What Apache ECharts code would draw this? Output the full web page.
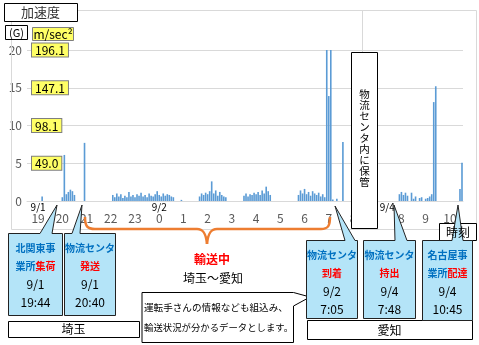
<!DOCTYPE html>
<html>
<head>
<meta charset="utf-8">
<script src="https://cdn.jsdelivr.net/npm/echarts@6/dist/echarts.min.js"></script>
<style>
html,body{margin:0;padding:0;background:#fff;}
#chart{width:479px;height:345px;}
</style>
</head>
<body>
<div id="chart"></div>
<script>
// 加速度(G) 5分ごと  9/1 18:35 〜 9/2 8:55
const accelA = [
  0, 0, 0, 0, 0,
  0, 0, 0.6, 0, 0, 0, 0, 0, 0, 0, 0, 0,                      // 19時
  0.5, 6.1, 0.9, 1.2, 1.5, 1.3, 0.8, 0, 0, 0, 0, 7.7,        // 20時
  0, 0, 0, 0, 0, 0, 0, 0, 0, 0, 0, 0,                        // 21時
  0, 0.8, 0.5, 1.0, 0.6, 0.9, 0.4, 0.7, 0.5, 1.2, 0.6, 0.8,  // 22時
  0.5, 0.9, 0.7, 1.1, 0.6, 0.8, 0.5, 1.0, 0.7, 0.6, 0.9, 1.3,// 23時
  0.8, 0.6, 1.0, 0.7, 0.9, 0.8, 0.6, 0.5, 0, 0, 0, 0.15,     // 0時
  0, 0, 0, 0, 0, 0, 0, 0, 0.6, 1.0, 0.8, 1.1,                // 1時
  0.9, 1.3, 2.6, 1.0, 1.4, 0.7, 1.2, 0.8, 0.6, 0.5, 0, 0,    // 2時
  0, 0, 0, 0, 0, 0, 0.7, 1.0, 0.6, 0.9, 0.8, 1.1,            // 3時
  0.9, 1.2, 0.8, 1.4, 1.0, 1.9, 1.3, 0.8, 0, 0, 0, 0,        // 4時
  0, 0, 0, 0, 0, 0, 0, 0, 0, 0.8, 1.4, 1.0,                  // 5時
  1.6, 0.9, 1.2, 0.7, 1.3, 1.0, 0.8, 1.1, 0.6, 0.9, 0.5, 20, // 6時
  13.9, 20, 0.2, 0, 0.3, 0, 0, 7.8, 0, 0, 0, 0,              // 7時
  0, 0, 0, 0, 0, 0, 0, 0, 0, 0, 0, 0                         // 8時
];
// 9/4 7:00 〜 10:30
const accelB = [
  0, 0, 0, 0, 0, 0, 0, 0, 0, 0, 0, 0.9,                      // 7時
  1.2, 0.8, 1.1, 0.7, 0, 1.1, 0.3, 0.6, 0, 0.4, 0.5, 0,      // 8時
  0.3, 0.4, 0.6, 0.9, 13.1, 15.2, 0, 0, 0, 0, 0, 0,          // 9時
  0, 0, 0, 0, 0, 1.6, 5.05                                   // 10時
];
const gTicks = ['', '49.0', '98.1', '147.1', '196.1'];
const dateMarks = { '9/1 19:00': '9/1', '9/2 0:00': '9/2', '9/4 7:25': '9/4' };

function makeTimes(day, nextDay, hour, minute, count) {
  const out = [];
  for (let i = 0; i < count; i++) {
    const t = hour * 60 + minute + i * 5;
    const d = t >= 1440 ? nextDay : day;
    out.push(d + ' ' + (Math.floor(t / 60) % 24) + ':' + String(t % 60).padStart(2, '0'));
  }
  return out;
}
const categories = makeTimes('9/1', '9/2', 18, 35, accelA.length)
  .concat(makeTimes('9/4', '9/4', 7, 0, accelB.length));
const accel = accelA.concat(accelB);

const FONT = "'Noto Sans CJK JP', sans-serif";
const BLUE = '#0070C0', RED = '#FF0000', ORANGE = '#ED7D31';

function box(x, y, w, h, fill, stroke) {
  return { type: 'rect', z: 100, shape: { x: x + 0.5, y: y + 0.5, width: w, height: h },
    style: { fill: fill, stroke: stroke, lineWidth: 1 } };
}
function txt(x, y, text, size, color, extra) {
  return { type: 'text', z: 101, x: x, y: y,
    style: Object.assign({ text: text, fontSize: size, fontFamily: FONT, fill: color,
      align: 'center', verticalAlign: 'middle', textAlign: 'center', textVerticalAlign: 'middle' }, extra || {}) };
}
const richStyle = {
  b: { fill: BLUE, fontSize: 10, fontWeight: 'bold', fontFamily: FONT },
  r: { fill: RED, fontSize: 10, fontWeight: 'bold', fontFamily: FONT }
};
function callout(x0, y0, x1, y1, b1, b2, tip, lines) {
  const cx = (x0 + x1) / 2;
  const els = [{ type: 'polygon', z: 100,
    shape: { points: [[x0, y0], [b1, y0], tip, [b2, y0], [x1, y0], [x1, y1], [x0, y1]] },
    style: { fill: '#b4e4f8', stroke: '#222', lineWidth: 1 } }];
  lines.forEach(function (l, i) {
    const y = y0 + 14.5 + i * 18;
    if (i < 2) els.push(txt(cx, y, l, 10, BLUE, { rich: richStyle, fontWeight: 'bold' }));
    else els.push(txt(cx, y, l, 12, '#000'));
  });
  return els;
}
function curve(p1, c1, c2, p2) {
  return { type: 'bezierCurve', z: 100,
    shape: { x1: p1[0], y1: p1[1], cpx1: c1[0], cpy1: c1[1], cpx2: c2[0], cpy2: c2[1], x2: p2[0], y2: p2[1] },
    style: { fill: null, stroke: ORANGE, lineWidth: 2.5 } };
}
function seg(p1, p2, color, w) {
  return { type: 'line', z: 100, shape: { x1: p1[0], y1: p1[1], x2: p2[0], y2: p2[1] },
    style: { stroke: color, lineWidth: w } };
}

// 輸送中の中括弧
const brace = [
  curve([85, 217], [85, 226], [87, 229], [95, 229]),
  seg([95, 229], [197, 229], ORANGE, 2.5),
  curve([197, 229], [203, 229], [206, 233], [207, 244]),
  curve([207, 244], [208, 233], [211, 229], [217, 229]),
  seg([217, 229], [321, 229], ORANGE, 2.5),
  curve([321, 229], [328, 229], [330, 226], [330, 217])
];

const graphics = [
  { type: 'rect', z: 99, shape: { x: 11.5, y: 10.5, width: 465, height: 219 }, style: { fill: null, stroke: '#d9d9d9', lineWidth: 1 } },
  seg([362.5, 10], [362.5, 52], '#d9d9d9', 1),
  box(4, 3, 73, 18, '#fff', '#000'),
  txt(40.5, 12.5, '加速度', 13, '#333'),
  box(5, 25, 22, 14, '#fff', '#000'),
  txt(16.5, 32.5, '(G)', 11, '#000'),
  box(32, 27, 41, 13, '#ffff66', '#7f7f7f'),
  txt(53, 34, 'm/sec²', 12, '#000'),
  box(351, 52, 26, 176, '#fff', '#000'),
  txt(364.5, 138, '物\n流\nセ\nン\nタ\n内\nに\n保\n管', 10.5, '#000', { lineHeight: 11 })
].concat(brace, [
  txt(212, 259, '輸送中', 12, RED, { fontWeight: 'bold' }),
  txt(213, 278, '埼玉～愛知', 12, '#000'),
  box(439, 223, 37, 17, '#fff', '#000'),
  txt(458, 232, '時刻', 12, '#000'),
  { type: 'polygon', z: 100, shape: { points: [[142, 292.5], [293.5, 292.5], [310, 297], [293.5, 306], [293.5, 342.5], [142, 342.5]] },
    style: { fill: '#fff', stroke: '#000', lineWidth: 1 } },
  txt(144, 307, '運転手さんの情報なども組込み、', 9.6, '#000', { align: 'left', textAlign: 'left' }),
  txt(144, 327, '輸送状況が分かるデータとします。', 9.4, '#000', { align: 'left', textAlign: 'left' }),
  box(8, 321, 131, 16, '#fff', '#000'),
  txt(73.5, 329.5, '埼玉', 12, '#000'),
  box(307, 320, 165, 19, '#fff', '#000'),
  txt(389.5, 330, '愛知', 12, '#000')
]).concat(
  callout(8.5, 233.5, 62.5, 315.5, 40, 52, [57, 205], ['北関東事', '{b|業所}{r|集荷}', '9/1', '19:44']),
  callout(64.5, 233.5, 115.5, 315.5, 72, 80, [82, 205], ['物流センタ', '{r|発送}', '9/1', '20:40']),
  callout(306.5, 240.5, 357.5, 318.5, 345, 355, [335, 206], ['物流センタ', '{r|到着}', '9/2', '7:05']),
  callout(363.5, 240.5, 415.5, 318.5, 395, 407, [394, 205], ['物流センタ', '{r|持出}', '9/4', '7:48']),
  callout(422.5, 240.5, 472.5, 320.5, 452, 463, [458, 205], ['名古屋事', '{b|業所}{r|配達}', '9/4', '10:45'])
);

const chart = echarts.init(document.getElementById('chart'));
chart.setOption({
  animation: false,
  textStyle: { fontFamily: FONT },
  grid: { left: 27, right: 16, top: 50, bottom: 144 },
  xAxis: [{
    type: 'category',
    data: categories,
    position: 'bottom',
    axisLine: { lineStyle: { color: '#d9d9d9' } },
    axisTick: { show: false },
    axisLabel: {
      interval: function (i, v) { return /:00$/.test(v) && v !== '9/4 7:00'; },
      formatter: function (v) { return v.split(' ')[1].split(':')[0]; },
      color: '#595959', fontSize: 12, margin: 11
    }
  }, {
    type: 'category',
    data: categories,
    position: 'bottom',
    axisLine: { show: false },
    axisTick: { show: false },
    splitLine: { show: false },
    axisLabel: {
      interval: function (i, v) { return dateMarks[v] !== undefined; },
      formatter: function (v) { return dateMarks[v] || ''; },
      color: '#000', fontSize: 10, margin: 1
    }
  }],
  yAxis: [{
    type: 'value', min: 0, max: 20, interval: 5, position: 'left',
    axisLine: { show: false }, axisTick: { show: false },
    axisLabel: { color: '#595959', fontSize: 12, margin: 5 },
    splitLine: { lineStyle: { color: '#d9d9d9' } }
  }, {
    type: 'value', min: 0, max: 20, interval: 5, position: 'left',
    axisLine: { show: false }, axisTick: { show: false }, splitLine: { show: false },
    axisLabel: {
      inside: true, margin: 5,
      formatter: function (v) { const s = gTicks[v / 5]; return s ? '{g|' + s + '}' : ''; },
      rich: { g: { backgroundColor: '#ffff66', borderColor: '#7f7f7f', borderWidth: 1,
        padding: [1, 3, 0, 3], color: '#000', fontSize: 12, fontFamily: FONT } }
    }
  }],
  series: [{
    type: 'bar',
    data: accel,
    barCategoryGap: '20%',
    itemStyle: { color: '#5B9BD5' },
    silent: true
  }],
  graphic: { elements: graphics }
});
window.addEventListener('resize', function () { chart.resize(); });
</script>
</body>
</html>
